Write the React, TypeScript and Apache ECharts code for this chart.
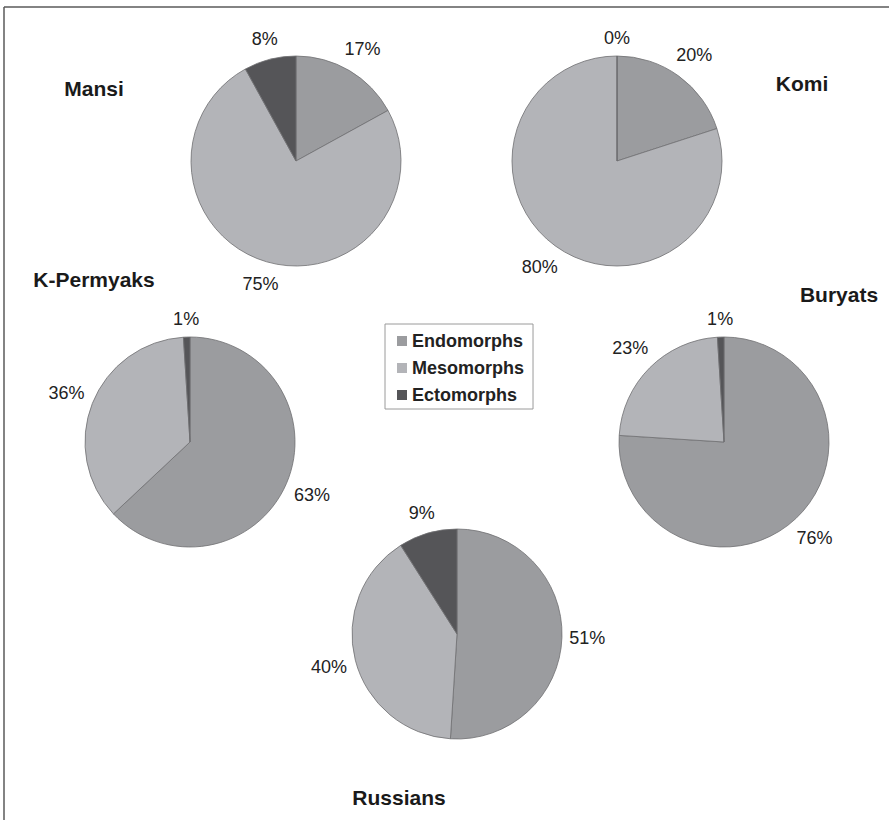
import React, { useEffect, useRef } from "react";
import * as echarts from "echarts";

// Somatotype shares (%) by population
const groups = ["Mansi", "Komi", "K-Permyaks", "Buryats", "Russians"];
const somatotypes = ["Endomorphs", "Mesomorphs", "Ectomorphs"];
const endomorphs = [17, 20, 63, 76, 51];
const mesomorphs = [75, 80, 36, 23, 40];
const ectomorphs = [8, 0, 1, 1, 9];

// Layout of the five pies and their captions
const pieCenters: [number, number][] = [
  [296, 161],
  [617, 161],
  [190, 442],
  [724, 442],
  [457, 634],
];
const titlePositions: [number, number][] = [
  [94, 88],
  [802, 83],
  [94, 279],
  [839, 294],
  [399, 797],
];
const RADIUS = 105;
const colors = ["#9b9c9f", "#b3b4b8", "#555558"];
const FONT = '"Liberation Sans", Arial, sans-serif';

export default function App() {
  const ref = useRef<HTMLDivElement>(null);

  useEffect(() => {
    document.body.style.margin = "0";
    const chart = echarts.init(ref.current!, null, { renderer: "svg" });

    const series = groups.map((name, gi) => {
      const values = [endomorphs[gi], mesomorphs[gi], ectomorphs[gi]];
      const total = values.reduce((a, b) => a + b, 0);
      const [cx, cy] = pieCenters[gi];
      return {
        type: "pie",
        name,
        center: [cx, cy],
        radius: RADIUS,
        startAngle: 90,
        clockwise: true,
        avoidLabelOverlap: false,
        data: somatotypes.map((s, i) => ({ name: s, value: values[i] })),
        itemStyle: { borderColor: "#707072", borderWidth: 0.8 },
        label: {
          show: true,
          position: "outside",
          formatter: (p: any) => `${p.value}%`,
          fontFamily: FONT,
          fontSize: 18,
          color: "#222",
        },
        labelLine: { show: false, length: 8, length2: 0 },
        emphasis: { disabled: true },
        // place each label just outside the rim, along its slice's mid-angle
        labelLayout: (params: any) => {
          const i = params.dataIndex;
          let before = 0;
          for (let k = 0; k < i; k++) before += values[k];
          const mid = ((before + values[i] / 2) / total) * Math.PI * 2;
          const dx = Math.sin(mid);
          const dy = -Math.cos(mid);
          const w = params.labelRect.width;
          const h = 22;
          const d = RADIUS + 7 + Math.abs(dx) * (w / 2) + Math.abs(dy) * (h / 2);
          return {
            x: cx + dx * d,
            y: cy + dy * d,
            align: "center",
            verticalAlign: "middle",
          };
        },
      };
    });

    const graphic: any[] = groups.map((name, gi) => ({
      type: "text",
      x: titlePositions[gi][0],
      y: titlePositions[gi][1],
      style: {
        text: name,
        font: `bold 21px ${FONT}`,
        fill: "#1a1a1a",
        align: "center",
        verticalAlign: "middle",
      },
    }));
    // frame edges along the top and left
    graphic.push(
      { type: "line", shape: { x1: 4, y1: 7, x2: 889, y2: 7 }, style: { stroke: "#5a5a5a", lineWidth: 1.5 } },
      { type: "line", shape: { x1: 4, y1: 7, x2: 4, y2: 820 }, style: { stroke: "#5a5a5a", lineWidth: 1.5 } }
    );

    chart.setOption({
      animation: false,
      backgroundColor: "#ffffff",
      color: colors,
      legend: {
        data: somatotypes,
        orient: "vertical",
        left: 385,
        top: 324,
        padding: [8, 9, 5, 12],
        itemGap: 9,
        itemWidth: 10,
        itemHeight: 10,
        icon: "rect",
        backgroundColor: "#ffffff",
        borderColor: "#9a9a9a",
        borderWidth: 1,
        borderRadius: 0,
        selectedMode: false,
        itemStyle: { borderWidth: 0 },
        textStyle: {
          fontFamily: FONT,
          fontSize: 18,
          fontWeight: "bold",
          color: "#222",
          lineHeight: 18,
        },
      },
      graphic,
      series,
    });

    return () => chart.dispose();
  }, []);

  return <div ref={ref} style={{ width: 889, height: 820 }} />;
}
